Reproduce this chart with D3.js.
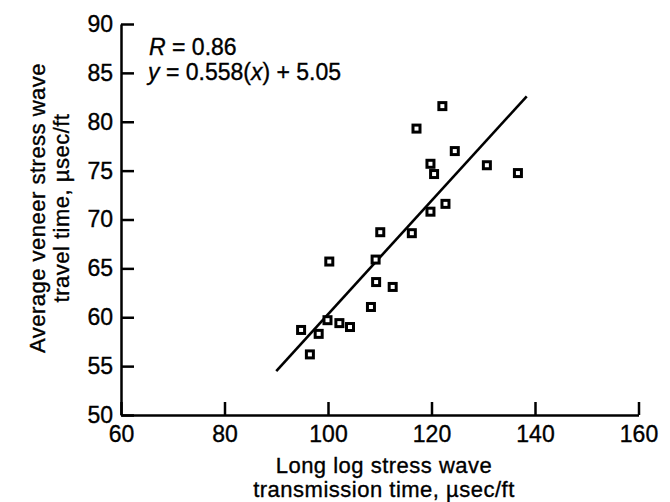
<!DOCTYPE html>
<html>
<head>
<meta charset="utf-8">
<script src="https://cdn.jsdelivr.net/npm/d3@7"></script>
<style>
  body { margin: 0; background: #fff; }
  text { font-family: "Liberation Sans", Arial, sans-serif; fill: #000; stroke: #000; stroke-width: 0.35px; }
  .title { letter-spacing: 0.5px; }
</style>
</head>
<body>
<svg id="chart"></svg>
<script>
var width = 670;
var height = 502;

// values
var veneerX = [122.1, 117.1, 124.5, 119.8, 120.5, 130.7, 136.7, 122.7, 119.8, 110.1, 116.2,
               100.25, 109.2, 109.3, 112.5, 108.3, 99.9, 102.2, 104.25, 94.8, 98.2, 96.5];
var veneerY = [81.6, 79.3, 77.0, 75.7, 74.65, 75.55, 74.75, 71.6, 70.8, 68.7, 68.6,
               65.7, 65.9, 63.6, 63.1, 61.05, 59.7, 59.4, 59.0, 58.7, 58.3, 56.2];
var fitX = [90, 138.4];
var fitY = [54.5, 82.6];
var xTicks = [60, 80, 100, 120, 140, 160];
var yTicks = [50, 55, 60, 65, 70, 75, 80, 85, 90];

var svg = d3.select("#chart").attr("width", width).attr("height", height);

var x = d3.scaleLinear().domain([60, 160]).range([121, 638.5]);
var y = d3.scaleLinear().domain([50, 90]).range([415, 24]);

var fontSize = 23;

// axes, ticks point inward
var xAxis = svg.append("g")
  .attr("transform", "translate(0," + y(50) + ")")
  .call(d3.axisBottom(x).tickValues(xTicks).tickSizeInner(-13).tickSizeOuter(0).tickPadding(11));

var yAxis = svg.append("g")
  .attr("transform", "translate(" + x(60) + ",0)")
  .call(d3.axisLeft(y).tickValues(yTicks).tickSizeInner(-13).tickSizeOuter(0).tickPadding(8));

[xAxis, yAxis].forEach(function(a) {
  a.selectAll("path, line").attr("stroke", "#000").attr("stroke-width", 2.5);
  a.selectAll("text").style("font-size", fontSize + "px").attr("fill", "#000");
});

// regression line
var pts = fitX.map(function(d, i) { return [d, fitY[i]]; });
svg.append("path")
  .datum(pts)
  .attr("fill", "none")
  .attr("stroke", "#000")
  .attr("stroke-width", 2.6)
  .attr("d", d3.line().x(function(d) { return x(d[0]); }).y(function(d) { return y(d[1]); }));

// data markers
var s = 7;
svg.append("g").selectAll("rect")
  .data(veneerX.map(function(d, i) { return [d, veneerY[i]]; }))
  .enter().append("rect")
  .attr("x", function(d) { return x(d[0]) - s / 2; })
  .attr("y", function(d) { return y(d[1]) - s / 2; })
  .attr("width", s)
  .attr("height", s)
  .attr("fill", "#fff")
  .attr("stroke", "#000")
  .attr("stroke-width", 3);

// annotation
var note = svg.append("text").attr("x", 149).attr("y", 55).style("font-size", fontSize + "px");
note.append("tspan").style("font-style", "italic").text("R");
note.append("tspan").text(" = 0.86");

var eq = svg.append("text").attr("x", 148).attr("y", 80).style("font-size", fontSize + "px");
eq.append("tspan").style("font-style", "italic").text("y");
eq.append("tspan").text(" = 0.558(");
eq.append("tspan").style("font-style", "italic").text("x");
eq.append("tspan").text(") + 5.05");

// axis titles
var titleSize = 22;
svg.append("text").attr("class", "title").attr("text-anchor", "middle").style("font-size", titleSize + "px")
  .attr("x", 384).attr("y", 473).text("Long log stress wave");
svg.append("text").attr("class", "title").attr("text-anchor", "middle").style("font-size", titleSize + "px")
  .attr("x", 384).attr("y", 497).text("transmission time, \u00b5sec/ft");

svg.append("text").attr("class", "title").attr("text-anchor", "middle")
  .attr("transform", "translate(0,208) rotate(-90)")
  .style("font-size", titleSize + "px")
  .attr("x", 0).attr("y", 45).text("Average veneer stress wave");
svg.append("text").attr("class", "title").attr("text-anchor", "middle")
  .attr("transform", "translate(0,208) rotate(-90)")
  .style("font-size", titleSize + "px")
  .attr("x", 0).attr("y", 69).text("travel time, \u00b5sec/ft");
</script>
</body>
</html>
